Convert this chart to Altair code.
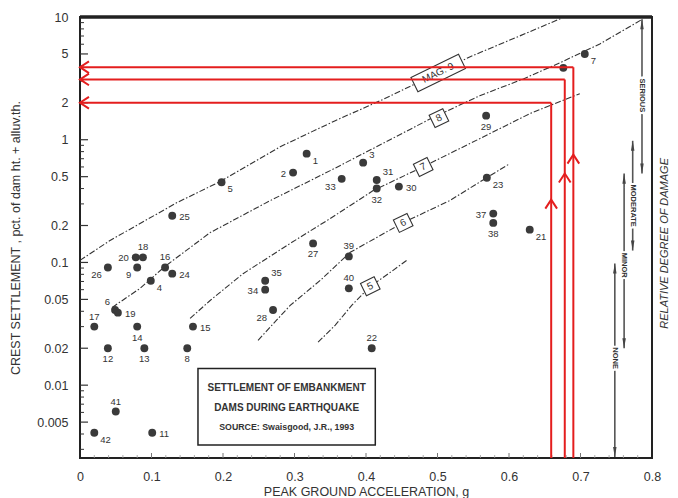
import altair as alt
import pandas as pd

# ---------------- data ----------------
dam_id = ["1", "2", "3", "4", "5", "6", "7", "8", "9",
          "11", "12", "13", "14", "15", "16", "17", "18", "19", "20",
          "21", "22", "23", "24", "25", "26", "27", "28", "29", "30",
          "31", "32", "33", "34", "35",
          "37", "38", "39", "40", "41", "42", ""]
pga = [0.317, 0.298, 0.396, 0.099, 0.198, 0.049, 0.706, 0.150, 0.080,
       0.101, 0.039, 0.090, 0.080, 0.158, 0.119, 0.020, 0.088, 0.053, 0.078,
       0.629, 0.408, 0.569, 0.129, 0.129, 0.039, 0.326, 0.270, 0.568, 0.446,
       0.415, 0.415, 0.366, 0.259, 0.259,
       0.578, 0.578, 0.376, 0.376, 0.050, 0.020, 0.676]
settlement = [0.77, 0.54, 0.65, 0.071, 0.45, 0.041, 5.0, 0.020, 0.091,
              0.0041, 0.020, 0.020, 0.030, 0.030, 0.091, 0.030, 0.11, 0.039, 0.11,
              0.185, 0.020, 0.49, 0.081, 0.24, 0.091, 0.143, 0.041, 1.57, 0.415,
              0.47, 0.40, 0.48, 0.060, 0.071,
              0.25, 0.21, 0.112, 0.0615, 0.0061, 0.0041, 3.85]
label_side = ["rb", "l", "ra", "rb", "rb", "la", "rb", "b", "lb",
              "r", "b", "b", "b", "r", "a", "a", "a", "r", "l",
              "rb", "a", "rb", "r", "r", "lb", "b", "lb", "b", "r",
              "ra", "b", "lb", "l", "ra",
              "l", "b", "a", "a", "a", "rb", "r"]

# magnitude curves (dash-dot)
mag9_pga = [0.0, 0.042, 0.094, 0.136, 0.196, 0.280, 0.357, 0.420, 0.501, 0.545, 0.615, 0.674]
mag9_set = [0.104, 0.151, 0.224, 0.308, 0.456, 0.877, 1.43, 2.08, 3.51, 4.73, 7.01, 9.8]
mag8_pga = [0.045, 0.084, 0.119, 0.182, 0.266, 0.350, 0.396, 0.490, 0.559, 0.620, 0.671, 0.727, 0.787]
mag8_set = [0.043, 0.0615, 0.093, 0.175, 0.319, 0.560, 0.77, 1.48, 2.28, 3.13, 4.23, 6.03, 9.63]
mag7_pga = [0.154, 0.182, 0.228, 0.294, 0.350, 0.410, 0.480, 0.559, 0.629, 0.699]
mag7_set = [0.035, 0.049, 0.081, 0.143, 0.228, 0.385, 0.603, 1.02, 1.63, 2.37]
mag6_pga = [0.249, 0.294, 0.336, 0.378, 0.452, 0.517, 0.569, 0.601]
mag6_set = [0.0232, 0.0447, 0.0714, 0.121, 0.211, 0.319, 0.491, 0.638]
mag5_pga = [0.333, 0.357, 0.380, 0.406, 0.434, 0.457]
mag5_set = [0.0224, 0.0308, 0.0447, 0.0638, 0.083, 0.104]

mag_labels = ["MAG. 9", "8", "7", "6", "5"]
mag_box_pga = [0.501, 0.502, 0.480, 0.452, 0.406]
mag_box_set = [3.5, 1.5, 0.60, 0.21, 0.064]

# red reading lines
red_pga = [0.659, 0.678, 0.690]
red_set = [2.0, 3.1, 3.9]
red_arrow_set = [0.325, 0.53, 0.755]

# relative degree of damage arrows
damage_levels = ["SERIOUS", "MODERATE", "MINOR", "NONE"]
damage_pga = [0.786, 0.773, 0.761, 0.748]
damage_hi = [9.6, 0.98, 0.53, 0.098]
damage_lo = [0.53, 0.125, 0.020, 0.0026]
damage_label_set = [2.3, 0.29, 0.095, 0.0166]

legend_lines = ["SETTLEMENT OF EMBANKMENT", "DAMS DURING EARTHQUAKE", "SOURCE: Swaisgood, J.R., 1993"]
legend_line_set = [0.0095, 0.0065, 0.00456]

x_ticks = [0, 0.1, 0.2, 0.3, 0.4, 0.5, 0.6, 0.7, 0.8]
y_ticks = [0.005, 0.01, 0.02, 0.05, 0.1, 0.2, 0.5, 1, 2, 5, 10]
y_minor = [0.003, 0.004, 0.006, 0.007, 0.008, 0.009,
           0.03, 0.04, 0.06, 0.07, 0.08, 0.09,
           0.3, 0.4, 0.6, 0.7, 0.8, 0.9,
           3, 4, 6, 7, 8, 9]
x_minor = [0.02, 0.04, 0.06, 0.08, 0.12, 0.14, 0.16, 0.18, 0.22, 0.24, 0.26, 0.28,
           0.32, 0.34, 0.36, 0.38, 0.42, 0.44, 0.46, 0.48, 0.52, 0.54, 0.56, 0.58,
           0.62, 0.64, 0.66, 0.68, 0.72, 0.74, 0.76, 0.78]

Y_MIN, Y_MAX = 0.00255, 10.0
FONT = "Liberation Sans"
INK = "#333333"
RED = "#e41e1e"

# ---------------- tables ----------------
points_df = pd.DataFrame({"id": dam_id, "pga": pga, "settlement": settlement, "side": label_side})

curve_rows = []
for name, xs_, ys_ in [("9", mag9_pga, mag9_set), ("8", mag8_pga, mag8_set),
                       ("7", mag7_pga, mag7_set), ("6", mag6_pga, mag6_set),
                       ("5", mag5_pga, mag5_set)]:
    for a, b in zip(xs_, ys_):
        curve_rows.append({"mag": name, "pga": a, "settlement": b})
curves_df = pd.DataFrame(curve_rows)

boxes_df = pd.DataFrame({"label": mag_labels, "pga": mag_box_pga, "settlement": mag_box_set})

red_rows = []
for p, s in zip(red_pga, red_set):
    red_rows.append({"pga": p, "pga2": p, "settlement": Y_MIN, "settlement2": s})
    red_rows.append({"pga": 0.0, "pga2": p, "settlement": s, "settlement2": s})
red_df = pd.DataFrame(red_rows)
red_left_df = pd.DataFrame({"pga": [0.0] * len(red_set), "settlement": red_set})
red_up_df = pd.DataFrame({"pga": red_pga, "settlement": red_arrow_set})

dmg_df = pd.DataFrame({"level": damage_levels, "pga": damage_pga,
                       "settlement": damage_lo, "settlement2": damage_hi})
dmg_top_df = pd.DataFrame({"pga": damage_pga, "settlement": damage_hi})
dmg_bot_df = pd.DataFrame({"pga": damage_pga, "settlement": damage_lo})
dmg_lab_df = pd.DataFrame({"level": damage_levels, "pga": damage_pga, "settlement": damage_label_set})

legend_box_df = pd.DataFrame({"pga": [0.165], "pga2": [0.413], "settlement": [0.00325], "settlement2": [0.0137]})
legend_txt_df = pd.DataFrame({"t": legend_lines, "pga": [0.289] * 3, "settlement": legend_line_set,
                              "fs": [10, 10, 8.8]})

ytick_df = pd.DataFrame({"settlement": y_ticks})
yminor_df = pd.DataFrame({"settlement": y_minor})
xtick_df = pd.DataFrame({"pga": x_ticks[1:-1]})
xminor_df = pd.DataFrame({"pga": x_minor})
side_df = pd.DataFrame({"pga": [0.818], "settlement": [0.143], "t": ["RELATIVE DEGREE OF DAMAGE"]})
top_df = pd.DataFrame({"pga": [0.0], "pga2": [0.8], "settlement": [Y_MAX]})

# ---------------- scales / axes ----------------
xs = alt.Scale(domain=[0, 0.8], nice=False, zero=False)
ys = alt.Scale(type="log", domain=[Y_MIN, Y_MAX], nice=False)

x_axis = alt.Axis(values=x_ticks, labelExpr="datum.value == 0 ? '0' : format(datum.value, '.1f')",
                  ticks=False, domain=False, grid=False, labelPadding=12, labelFontSize=12.5,
                  labelFont=FONT, labelColor=INK, titleFont=FONT, titleColor=INK,
                  titleFontSize=12.5, titleFontWeight="normal", titlePadding=3, labelFlush=False)
y_axis = alt.Axis(values=y_ticks, format="~g", ticks=False, domain=False, grid=False,
                  labelPadding=12, labelFontSize=12.5, labelFont=FONT, labelColor=INK,
                  titleFont=FONT, titleColor=INK, titleFontSize=12.5, titleFontWeight="normal",
                  titleX=-58, labelFlush=False)

X = alt.X("pga:Q", scale=xs, axis=x_axis, title="PEAK GROUND ACCELERATION, g")
Y = alt.Y("settlement:Q", scale=ys, axis=y_axis, title="CREST SETTLEMENT , pct. of dam ht. + alluv.th.")
X2 = alt.X2("pga2:Q")
Y2 = alt.Y2("settlement2:Q")

layers = []

# ticks (inside)
layers.append(alt.Chart(ytick_df).mark_rule(color=INK, strokeWidth=1.2).encode(
    x=alt.value(0), x2=alt.value(8), y=Y))
layers.append(alt.Chart(yminor_df).mark_rule(color=INK, strokeWidth=1).encode(
    x=alt.value(0), x2=alt.value(4), y=Y))
layers.append(alt.Chart(xtick_df).mark_rule(color="#777", strokeWidth=1).encode(
    x=X, y=alt.value(441), y2=alt.value(436)))
layers.append(alt.Chart(xminor_df).mark_rule(color="#999", strokeWidth=0.8).encode(
    x=X, y=alt.value(441), y2=alt.value(438)))
layers.append(alt.Chart(top_df).mark_rule(color="#222", strokeWidth=3.5).encode(x=X, x2=X2, y=Y))

# magnitude curves
layers.append(alt.Chart(curves_df).mark_line(color=INK, strokeWidth=1.1, strokeDash=[6, 2, 1.5, 2]).encode(
    x=X, y=Y, detail="mag:N", order="pga:Q"))

# magnitude boxes
mag_main = boxes_df[boxes_df["label"] == "MAG. 9"]
mag_num = boxes_df[boxes_df["label"] != "MAG. 9"]
layers.append(alt.Chart(mag_main).mark_point(shape="M-1,-0.3L1,-0.3L1,0.3L-1,0.3Z", size=2800, filled=True,
                                             fill="white", stroke=INK, strokeWidth=1.1, opacity=1, angle=334).encode(x=X, y=Y))
layers.append(alt.Chart(mag_num).mark_point(shape="M-1,-0.9L1,-0.9L1,0.9L-1,0.9Z", size=230, filled=True,
                                            fill="white", stroke=INK, strokeWidth=1.1, opacity=1, angle=334).encode(x=X, y=Y))
layers.append(alt.Chart(boxes_df).mark_text(font=FONT, fontSize=10, color=INK, angle=334,
                                            align="center", baseline="middle").encode(x=X, y=Y, text="label:N"))

# data points
layers.append(alt.Chart(points_df).mark_circle(size=62, color="#3a3a3a", opacity=1).encode(x=X, y=Y))

side_style = {"r": (7, 1, "left"), "l": (-7, 1, "right"), "a": (0, -10, "center"), "b": (0, 11, "center"),
              "ra": (6, -8, "left"), "rb": (6, 7, "left"), "la": (-5, -8, "right"), "lb": (-6, 8, "right")}
for s, (dx, dy, al) in side_style.items():
    layers.append(alt.Chart(points_df).transform_filter(alt.datum.side == s).mark_text(
        font=FONT, fontSize=9.5, color=INK, dx=dx, dy=dy, align=al, baseline="middle").encode(
        x=X, y=Y, text="id:N"))

# damage arrows on the right
layers.append(alt.Chart(dmg_df).mark_rule(color="#555", strokeWidth=1.6).encode(x=X, y=Y, y2=Y2))
layers.append(alt.Chart(dmg_top_df).mark_point(shape="M0,0L-0.45,2.6L0.45,2.6Z", size=60, filled=True,
                                               color="#444", opacity=1).encode(x=X, y=Y))
layers.append(alt.Chart(dmg_bot_df).mark_point(shape="M0,0L-0.45,-2.6L0.45,-2.6Z", size=60, filled=True,
                                               color="#444", opacity=1).encode(x=X, y=Y))
layers.append(alt.Chart(dmg_lab_df).mark_text(font=FONT, fontSize=7.5, fontWeight="bold", angle=90,
                                              stroke="white", strokeWidth=4, color="white",
                                              align="center", baseline="middle").encode(x=X, y=Y, text="level:N"))
layers.append(alt.Chart(dmg_lab_df).mark_text(font=FONT, fontSize=7.5, fontWeight="bold", angle=90, color=INK,
                                              align="center", baseline="middle").encode(x=X, y=Y, text="level:N"))

# source box
layers.append(alt.Chart(legend_box_df).mark_rect(fill="white", stroke="#222", strokeWidth=1.5).encode(
    x=X, x2=X2, y=Y, y2=Y2))
layers.append(alt.Chart(legend_txt_df).mark_text(font=FONT, color=INK, fontWeight="bold",
                                                 align="center", baseline="middle").encode(
    x=X, y=Y, text="t:N", size=alt.Size("fs:Q", scale=None, legend=None)))

# side caption
layers.append(alt.Chart(side_df).mark_text(font=FONT, fontSize=11, fontStyle="italic", color=INK, angle=270,
                                           align="center", baseline="middle").encode(x=X, y=Y, text="t:N"))

# red reading lines
layers.append(alt.Chart(red_df).mark_rule(color=RED, strokeWidth=2).encode(x=X, x2=X2, y=Y, y2=Y2))
layers.append(alt.Chart(red_left_df).mark_point(shape="M1.3,-0.85L0,0L1.3,0.85", size=190, filled=False,
                                                stroke=RED, strokeWidth=2, opacity=1).encode(x=X, y=Y))
layers.append(alt.Chart(red_up_df).mark_point(shape="M-0.85,1.3L0,0L0.85,1.3", size=190, filled=False,
                                              stroke=RED, strokeWidth=2, opacity=1).encode(x=X, y=Y))

chart = alt.layer(*layers).properties(
    width=572, height=441,
    autosize=alt.AutoSizeParams(type="none"),
    padding={"left": 80, "top": 17, "right": 26, "bottom": 40},
    background="white",
).configure_view(stroke="#222", strokeWidth=2)

chart.save("out.html", embed_options={"renderer": "svg", "actions": False})
